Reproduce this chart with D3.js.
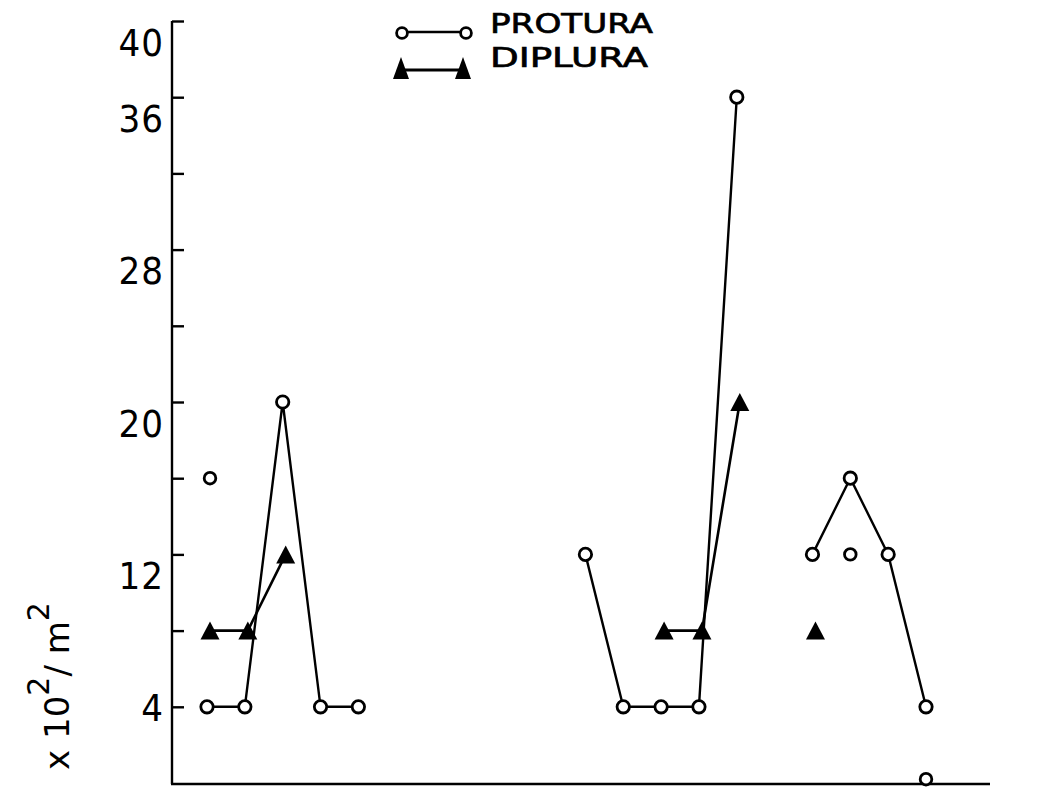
<!DOCTYPE html>
<html>
<head>
<meta charset="utf-8">
<script src="https://cdn.jsdelivr.net/npm/d3@7"></script>
<style>
  html, body { margin: 0; padding: 0; background: #fff; }
  svg { display: block; }
</style>
</head>
<body>
<svg id="chart" width="1045" height="789"></svg>
<script>
// ---- data (sampling index 0..19) ----
const sampleIndex = d3.range(0, 20);
const protura = [4, 4, 20, 4, 4, null, null, null, null, null, 12, 4, 4, 4, 36, null, 12, 16, 12, 4];
const diplura = [8, 8, 12, null, null, null, null, null, null, null, null, null, 8, 8, 20, null, 8, null, null, null];
// isolated (unconnected) protura observations
const proturaExtraIndex = [0, 17, 19];
const proturaExtraValue = [16, 12, 0.2];
const yTicks = [4, 8, 12, 16, 20, 24, 28, 32, 36, 40];
const yTickLabels = [4, 12, 20, 28, 36, 40];
const seriesNames = ["PROTURA", "DIPLURA"];

const svg = d3.select("#chart");
const axisX = 172, baseY = 784;

const x = d3.scaleLinear().domain([0, 19]).range([207, 926]);
const y = d3.scaleLinear().domain([0, 40]).range([783, 21]);

const ink = "#000";

// axes
svg.append("line").attr("x1", axisX).attr("x2", axisX).attr("y1", y(40)).attr("y2", baseY)
  .attr("stroke", ink).attr("stroke-width", 2.4);
svg.append("line").attr("x1", axisX - 1).attr("x2", 990).attr("y1", baseY).attr("y2", baseY)
  .attr("stroke", ink).attr("stroke-width", 2.4);

const yAxis = d3.axisRight(y).tickValues(yTicks).tickSize(12).tickFormat(d => yTickLabels.includes(d) ? d : "");
const gy = svg.append("g").attr("transform", `translate(${axisX},0)`).call(yAxis);
gy.select(".domain").remove();
gy.selectAll(".tick line").attr("stroke", ink).attr("stroke-width", 2.4);
gy.selectAll(".tick text")
  .attr("x", -8)
  .attr("text-anchor", "end")
  .attr("dy", d => d === 4 ? "0.35em" : "0.9em")
  .attr("fill", ink)
  .style("font-family", "'DejaVu Sans Condensed', 'Liberation Sans Narrow', 'DejaVu Sans', sans-serif")
  .style("font-stretch", "condensed")
  .style("font-size", "38px")
  .style("letter-spacing", "1px");

// y title
const title = svg.append("text")
  .attr("transform", "translate(69,686) rotate(-90)")
  .attr("text-anchor", "middle")
  .attr("fill", ink)
  .style("font-family", "'DejaVu Sans', sans-serif")
  .style("font-size", "34px");
title.append("tspan").text("x 10");
title.append("tspan").attr("dy", -20).style("font-size", "30px").text("2");
title.append("tspan").attr("dy", 20).text("/ m");
title.append("tspan").attr("dy", -20).style("font-size", "30px").text("2");

// lines
const lineGen = d3.line()
  .defined(d => d.v !== null)
  .x(d => x(d.i))
  .y(d => y(d.v));

const pData = sampleIndex.map(i => ({ i, v: protura[i] }));
const dData = sampleIndex.map(i => ({ i, v: diplura[i] }));
const dDx = 3;

svg.append("path").datum(pData).attr("d", lineGen)
  .attr("fill", "none").attr("stroke", ink).attr("stroke-width", 2.4);
svg.append("path").datum(dData).attr("d", lineGen)
  .attr("transform", `translate(${dDx},0)`)
  .attr("fill", "none").attr("stroke", ink).attr("stroke-width", 2.6);

// triangle marker
function tri(cx, cy, w, h) {
  return `M${cx},${cy - h / 2}L${cx + w / 2},${cy + h / 2}L${cx - w / 2},${cy + h / 2}Z`;
}

svg.append("g").selectAll("path").data(dData.filter(d => d.v !== null)).join("path")
  .attr("d", d => tri(x(d.i) + dDx, y(d.v), 19, 18))
  .attr("fill", ink);

svg.append("g").selectAll("circle").data(pData.filter(d => d.v !== null)).join("circle")
  .attr("cx", d => x(d.i)).attr("cy", d => y(d.v)).attr("r", 6.2)
  .attr("fill", "#fff").attr("stroke", ink).attr("stroke-width", 2.8);

svg.append("g").selectAll("circle").data(proturaExtraIndex.map((i, k) => ({ i, v: proturaExtraValue[k] }))).join("circle")
  .attr("cx", (d, k) => x(d.i) + (k === 0 ? 3 : 0)).attr("cy", d => y(d.v)).attr("r", 5.8)
  .attr("fill", "#fff").attr("stroke", ink).attr("stroke-width", 2.8);

// legend
const lg = svg.append("g");
lg.append("line").attr("x1", 402).attr("x2", 466).attr("y1", 32).attr("y2", 32)
  .attr("stroke", ink).attr("stroke-width", 2.4);
[402, 466].forEach(cx => lg.append("circle").attr("cx", cx).attr("cy", 33).attr("r", 5.4)
  .attr("fill", "#fff").attr("stroke", ink).attr("stroke-width", 2.8));
lg.append("line").attr("x1", 401).attr("x2", 463).attr("y1", 70).attr("y2", 70)
  .attr("stroke", ink).attr("stroke-width", 2.8);
[401, 463].forEach(cx => lg.append("path").attr("d", tri(cx, 68, 16, 22)).attr("fill", ink));

const legendFont = "'DejaVu Sans', 'Liberation Sans', sans-serif";
lg.append("text").attr("x", 490).attr("y", 33).text(seriesNames[0])
  .attr("textLength", 163).attr("lengthAdjust", "spacingAndGlyphs")
  .attr("fill", ink).attr("stroke", ink).attr("stroke-width", 0.7)
  .style("font-family", legendFont).style("font-size", "27px");
lg.append("text").attr("x", 490).attr("y", 67).text(seriesNames[1])
  .attr("textLength", 158).attr("lengthAdjust", "spacingAndGlyphs")
  .attr("fill", ink).attr("stroke", ink).attr("stroke-width", 0.7)
  .style("font-family", legendFont).style("font-size", "27px");
</script>
</body>
</html>
